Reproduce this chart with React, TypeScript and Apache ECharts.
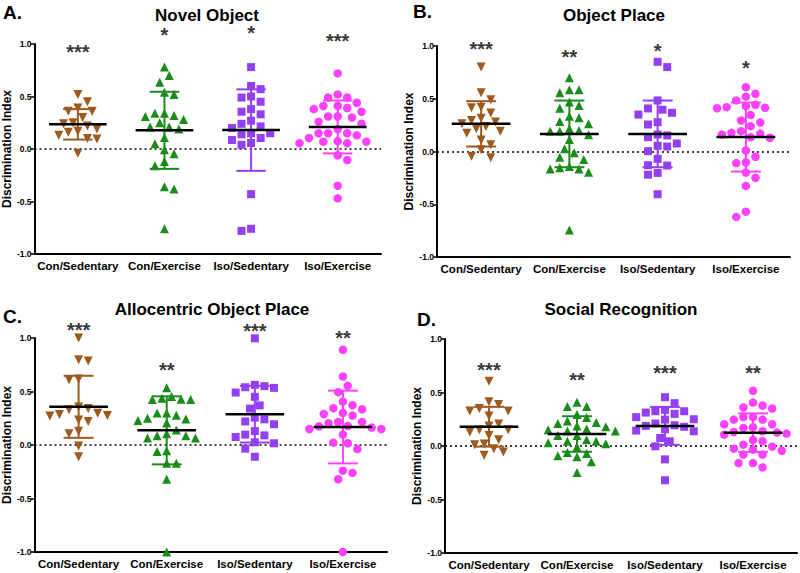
import React, { useEffect, useRef } from "react";
import * as echarts from "echarts";

const FONT = '"Liberation Sans", Arial, Helvetica, sans-serif';

const groups = ["Con/Sedentary", "Con/Exercise", "Iso/Sedentary", "Iso/Exercise"];
const groupColors = ["#9C5A1E", "#1A8C1A", "#9340F5", "#FF40FF"];
const groupSymbols = ["triangle", "triangle", "rect", "circle"];
const groupRotate = [180, 0, 0, 0];
const groupSizes = [9, 9, 8, 8.5];
const yAxisTitle = "Discrimination Index";

// A. Novel Object
const novelConSed = [0.52, 0.45, 0.39, 0.36, 0.36, 0.30, 0.25, 0.24, 0.22, 0.19, 0.17, 0.16, 0.13, 0.10, 0.095, -0.04];
const novelConEx = [0.78, 0.70, 0.635, 0.54, 0.52, 0.34, 0.34, 0.32, 0.31, 0.28, 0.25, 0.21, 0.21, 0.19, 0.11, 0.05, -0.006, -0.045, -0.12, -0.16, -0.36, -0.38, -0.76];
const novelIsoSed = [0.78, 0.60, 0.57, 0.50, 0.49, 0.45, 0.38, 0.355, 0.33, 0.27, 0.24, 0.215, 0.20, 0.15, 0.15, 0.14, 0.105, 0.086, 0.057, 0.04, -0.43, -0.76, -0.78];
const novelIsoEx = [0.72, 0.52, 0.49, 0.49, 0.44, 0.41, 0.41, 0.39, 0.38, 0.355, 0.31, 0.31, 0.30, 0.26, 0.24, 0.19, 0.15, 0.15, 0.15, 0.13, 0.105, 0.075, 0.07, 0.07, 0.055, 0.055, -0.06, -0.105, -0.35, -0.47];
const novelMeans = [0.235, 0.178, 0.18, 0.21];
const novelSD = [0.145, 0.367, 0.388, 0.252];
const novelStars = ["***", "*", "*", "***"];
const novelStarY = [0.96, 1.12, 1.14, 1.07];

// B. Object Place
const placeConSed = [0.80, 0.557, 0.49, 0.42, 0.415, 0.364, 0.316, 0.294, 0.28, 0.263, 0.237, 0.215, 0.193, 0.174, 0.11, 0.063, 0.016, -0.044, -0.06];
const placeConEx = [0.70, 0.585, 0.585, 0.557, 0.47, 0.437, 0.41, 0.335, 0.32, 0.285, 0.263, 0.215, 0.20, 0.193, 0.193, 0.158, 0.114, 0.025, -0.013, -0.054, -0.076, -0.142, -0.155, -0.165, -0.165, -0.196, -0.744];
const placeIsoSed = [0.85, 0.80, 0.484, 0.408, 0.396, 0.367, 0.35, 0.278, 0.256, 0.161, 0.152, 0.136, 0.076, 0.054, 0.047, 0.003, -0.07, -0.13, -0.133, -0.203, -0.22, -0.405];
const placeIsoEx = [0.61, 0.547, 0.52, 0.484, 0.443, 0.43, 0.42, 0.415, 0.41, 0.345, 0.294, 0.275, 0.24, 0.193, 0.177, 0.17, 0.16, 0.136, 0.13, 0.01, -0.05, -0.104, -0.11, -0.2, -0.25, -0.326, -0.57, -0.62];
const placeMeans = [0.262, 0.167, 0.167, 0.137];
const placeSD = [0.215, 0.316, 0.316, 0.327];
const placeStars = ["***", "**", "*", "*"];
const placeStarY = [1.01, 0.93, 0.99, 0.83];

// C. Allocentric Object Place
const alloConSed = [1.0, 0.797, 0.784, 0.616, 0.61, 0.356, 0.34, 0.33, 0.297, 0.284, 0.275, 0.27, 0.234, 0.22, 0.128, 0.106, -0.01, -0.11];
const alloConEx = [0.534, 0.453, 0.4375, 0.428, 0.425, 0.425, 0.30, 0.30, 0.278, 0.25, 0.244, 0.228, 0.206, 0.14, 0.106, 0.0875, 0.0875, 0.066, 0.066, -0.053, -0.06, -0.17, -0.17, -0.32, -1.0];
const alloIsoSed = [0.997, 0.5625, 0.55, 0.54, 0.534, 0.49, 0.45, 0.37, 0.34, 0.256, 0.24, 0.22, 0.194, 0.13, 0.097, 0.09, 0.075, 0.025, 0.016, -0.034, -0.11];
const alloIsoEx = [0.89, 0.64, 0.553, 0.494, 0.406, 0.372, 0.344, 0.334, 0.30, 0.29, 0.275, 0.216, 0.216, 0.203, 0.178, 0.175, 0.1625, 0.15, 0.15, 0.097, 0.022, 0.016, -0.0375, -0.24, -0.26, -0.32, -1.0];
const alloMeans = [0.357, 0.137, 0.288, 0.168];
const alloSD = [0.29, 0.318, 0.265, 0.34];
const alloStars = ["***", "**", "***", "**"];
const alloStarY = [1.11, 0.74, 1.10, 1.035];

// D. Social Recognition
const socialConSed = [0.606, 0.4125, 0.3875, 0.35, 0.328, 0.328, 0.28, 0.206, 0.1875, 0.153, 0.153, 0.131, 0.097, 0.059, 0.019, 0.0125, -0.025, -0.056, -0.0875];
const socialConEx = [0.41, 0.37, 0.37, 0.294, 0.266, 0.234, 0.219, 0.21, 0.1875, 0.18, 0.16, 0.153, 0.14, 0.14, 0.097, 0.097, 0.059, 0.044, 0.044, 0.03, 0.022, -0.009, -0.06, -0.069, -0.09, -0.1, -0.147, -0.247];
const socialIsoSed = [0.456, 0.40, 0.3375, 0.325, 0.325, 0.3125, 0.30, 0.27, 0.25, 0.247, 0.21, 0.194, 0.1875, 0.18, 0.156, 0.144, 0.1375, 0.075, 0.044, -0.003, -0.125, -0.32];
const socialIsoEx = [0.516, 0.406, 0.378, 0.36, 0.35, 0.27, 0.27, 0.247, 0.247, 0.203, 0.203, 0.175, 0.169, 0.1375, 0.131, 0.125, 0.116, 0.106, 0.056, 0.044, 0.0125, -0.006, -0.025, -0.034, -0.044, -0.08, -0.08, -0.16, -0.16, -0.2];
const socialMeans = [0.18, 0.112, 0.188, 0.125];
const socialSD = [0.186, 0.166, 0.177, 0.18];
const socialStars = ["***", "**", "***", "**"];
const socialStarY = [0.75, 0.65, 0.72, 0.72];

const panels = [
  { letter: "A.", title: "Novel Object", data: [novelConSed, novelConEx, novelIsoSed, novelIsoEx], means: novelMeans, sds: novelSD, stars: novelStars, starY: novelStarY },
  { letter: "B.", title: "Object Place", data: [placeConSed, placeConEx, placeIsoSed, placeIsoEx], means: placeMeans, sds: placeSD, stars: placeStars, starY: placeStarY },
  { letter: "C.", title: "Allocentric Object Place", data: [alloConSed, alloConEx, alloIsoSed, alloIsoEx], means: alloMeans, sds: alloSD, stars: alloStars, starY: alloStarY },
  { letter: "D.", title: "Social Recognition", data: [socialConSed, socialConEx, socialIsoSed, socialIsoEx], means: socialMeans, sds: socialSD, stars: socialStars, starY: socialStarY },
];

const layouts = [
  { left: 33, top: 44, width: 348, height: 210, titleX: 207, titleY: 15, letterX: 3, letterY: 12 },
  { left: 437, top: 46, width: 353, height: 211, titleX: 614, titleY: 15, letterX: 413, letterY: 11 },
  { left: 34, top: 338, width: 353, height: 214, titleX: 212, titleY: 309, letterX: 3, letterY: 316 },
  { left: 445, top: 339, width: 352, height: 214, titleX: 621, titleY: 309, letterX: 417, letterY: 319 },
];

// simple beeswarm: offsets (category units) computed from the values
function swarm(values: number[], pxPerY: number, pxPerX: number, diam: number): number[] {
  const order = values.map((_, i) => i).sort((a, b) => values[b] - values[a]);
  const placed: { x: number; y: number }[] = [];
  const offs = new Array(values.length).fill(0);
  const step = diam / 2;
  let flip = false;
  for (const i of order) {
    const y = values[i] * pxPerY;
    let chosen = 0;
    for (let k = 0; k < 60; k++) {
      const cands = k === 0 ? [0] : flip ? [-k * step, k * step] : [k * step, -k * step];
      let found: number | null = null;
      for (const c of cands) {
        if (placed.every((p) => (p.x - c) ** 2 + (p.y - y) ** 2 >= diam * diam * 0.97)) {
          found = c;
          break;
        }
      }
      if (found !== null) {
        chosen = found;
        if (found !== 0) flip = !flip;
        break;
      }
    }
    placed.push({ x: chosen, y });
    offs[i] = chosen / pxPerX;
  }
  return offs;
}

function buildOption() {
  const grid: any[] = [];
  const xAxis: any[] = [];
  const yAxis: any[] = [];
  const series: any[] = [];
  const graphic: any[] = [];

  panels.forEach((p, pi) => {
    const L = layouts[pi];
    grid.push({ left: L.left, top: L.top, width: L.width, height: L.height, containLabel: false });
    xAxis.push({
      type: "category",
      gridIndex: pi,
      data: groups,
      boundaryGap: true,
      axisLine: { onZero: false, lineStyle: { color: "#000", width: 2 } },
      axisTick: { alignWithLabel: true, length: 4, lineStyle: { color: "#000", width: 1.5 } },
      axisLabel: { color: "#000", fontWeight: "bold", fontSize: 11.5, fontFamily: FONT, margin: 6, interval: 0 },
      splitLine: { show: false },
    });
    xAxis.push({ type: "value", gridIndex: pi, min: -0.5, max: 3.5, show: false, axisLine: { onZero: false } });
    yAxis.push({
      type: "value",
      gridIndex: pi,
      min: -1,
      max: 1,
      interval: 0.5,
      name: yAxisTitle,
      nameLocation: "middle",
      nameGap: 18,
      nameTextStyle: { color: "#000", fontWeight: "bold", fontSize: 12, fontFamily: FONT },
      axisLine: { show: true, onZero: false, lineStyle: { color: "#000", width: 2 } },
      axisTick: { show: true, length: 4, lineStyle: { color: "#000", width: 1.5 } },
      axisLabel: { formatter: (v: number) => v.toFixed(1), fontSize: 8.5, fontWeight: "bold", color: "#000", fontFamily: FONT, margin: 3 },
      splitLine: { show: false },
    });
    const xi = pi * 2 + 1;
    p.data.forEach((vals, gi) => {
      const offs = swarm(vals, L.height / 2, L.width / 4, 9.6);
      series.push({
        type: "scatter",
        xAxisIndex: xi,
        yAxisIndex: pi,
        symbol: groupSymbols[gi],
        symbolRotate: groupRotate[gi],
        symbolSize: groupSizes[gi],
        itemStyle: { color: groupColors[gi], opacity: 1 },
        data: vals.map((v, k) => [gi + offs[k], v]),
        clip: false,
        silent: true,
        z: 2,
      });
    });
    series.push({
      type: "custom",
      xAxisIndex: xi,
      yAxisIndex: pi,
      z: 3,
      silent: true,
      clip: false,
      data: p.means.map((m, gi) => [gi, m, p.sds[gi]]),
      renderItem: (params: any, api: any) => {
        const gi = api.value(0);
        const m = api.value(1);
        const sd = api.value(2);
        const color = groupColors[gi];
        const top = api.coord([gi, m + sd]);
        const bot = api.coord([gi, m - sd]);
        const capA = api.coord([gi - 0.17, m + sd]);
        const capB = api.coord([gi + 0.17, m + sd]);
        const capC = api.coord([gi - 0.17, m - sd]);
        const capD = api.coord([gi + 0.17, m - sd]);
        const mA = api.coord([gi - 0.333, m]);
        const mB = api.coord([gi + 0.333, m]);
        const st = { stroke: color, lineWidth: 2 };
        return {
          type: "group",
          children: [
            { type: "line", shape: { x1: top[0], y1: top[1], x2: bot[0], y2: bot[1] }, style: st },
            { type: "line", shape: { x1: capA[0], y1: capA[1], x2: capB[0], y2: capB[1] }, style: st },
            { type: "line", shape: { x1: capC[0], y1: capC[1], x2: capD[0], y2: capD[1] }, style: st },
            { type: "line", shape: { x1: mA[0], y1: mA[1], x2: mB[0], y2: mB[1] }, style: { stroke: "#000", lineWidth: 2.5 } },
          ],
        };
      },
      markLine: {
        silent: true,
        symbol: ["none", "none"],
        label: { show: false },
        lineStyle: { color: "#000", type: [2, 3], width: 1.5 },
        data: [{ yAxis: 0 }],
        z: 1,
      },
    });
    series.push({
      type: "scatter",
      xAxisIndex: xi,
      yAxisIndex: pi,
      symbolSize: 0.1,
      itemStyle: { color: "transparent" },
      clip: false,
      silent: true,
      z: 4,
      data: p.starY.map((y, gi) => ({ value: [gi, y], label: { formatter: p.stars[gi] } })),
      label: { show: true, position: "inside", fontSize: 20, lineHeight: 12, fontWeight: "bold", color: "#000", fontFamily: FONT, offset: [0, 4] },
    });
    graphic.push({
      type: "text",
      x: L.titleX,
      y: L.titleY,
      style: { text: p.title, fill: "#000", font: `bold 17px ${FONT}`, textAlign: "center", textVerticalAlign: "middle" },
    });
    graphic.push({
      type: "text",
      x: L.letterX,
      y: L.letterY,
      style: { text: p.letter, fill: "#000", font: `bold 19px ${FONT}`, textAlign: "left", textVerticalAlign: "middle" },
    });
  });

  return { animation: false, backgroundColor: "#fff", grid, xAxis, yAxis, series, graphic };
}

export default function App() {
  const ref = useRef<HTMLDivElement>(null);
  useEffect(() => {
    document.body.style.margin = "0";
    if (!ref.current) return;
    const chart = echarts.init(ref.current, undefined, { renderer: "svg" });
    chart.setOption(buildOption() as any);
    return () => chart.dispose();
  }, []);
  return <div ref={ref} style={{ width: 800, height: 573 }} />;
}
